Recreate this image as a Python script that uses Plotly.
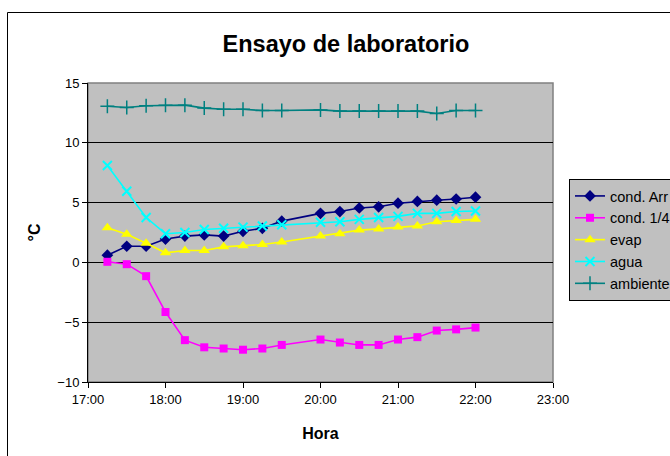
import plotly.graph_objects as go

# Measurement times (one reading every 15 minutes, no reading at 19:45)
horas = ["17:15", "17:30", "17:45", "18:00", "18:15", "18:30", "18:45", "19:00",
         "19:15", "19:30", "20:00", "20:15", "20:30", "20:45", "21:00", "21:15",
         "21:30", "21:45", "22:00"]

cond_arr = [0.6, 1.35, 1.35, 1.95, 2.2, 2.3, 2.2, 2.6, 2.85, 3.45,
            4.1, 4.25, 4.55, 4.65, 4.95, 5.1, 5.2, 5.3, 5.45]
cond_14 = [0.05, -0.15, -1.15, -4.15, -6.5, -7.1, -7.2, -7.3, -7.2, -6.9,
           -6.45, -6.7, -6.9, -6.9, -6.45, -6.25, -5.7, -5.6, -5.45]
evap = [2.9, 2.35, 1.6, 0.8, 1.0, 1.0, 1.3, 1.4, 1.5, 1.7,
        2.2, 2.4, 2.7, 2.8, 2.95, 3.05, 3.4, 3.5, 3.6]
agua = [8.1, 5.95, 3.75, 2.4, 2.5, 2.75, 2.85, 2.95, 3.05, 3.15,
        3.35, 3.4, 3.6, 3.75, 3.85, 4.1, 4.1, 4.25, 4.3]
ambiente = [13.05, 12.95, 13.1, 13.15, 13.15, 12.9, 12.8, 12.8, 12.7, 12.7,
            12.75, 12.65, 12.65, 12.65, 12.65, 12.65, 12.45, 12.7, 12.7]

x_ticks = ["17:00", "18:00", "19:00", "20:00", "21:00", "22:00", "23:00"]
y_ticks = [-10, -5, 0, 5, 10, 15]

DAY = "2000-01-01 "
xs = [DAY + h for h in horas]

series = [
    ("cond. Arr", cond_arr, "#000080", "diamond", 9, None),
    ("cond. 1/4", cond_14, "#FF00FF", "square", 8, None),
    ("evap", evap, "#FFFF00", "triangle-up", 10, None),
    ("agua", agua, "#00FFFF", "x-thin", 9, 2),
    ("ambiente", ambiente, "#008080", "cross-thin", 10, 1.5),
]

fig = go.Figure()
for name, vals, color, symbol, size, mlw in series:
    marker = dict(symbol=symbol, size=size, color=color)
    if mlw is not None:
        marker["line"] = dict(color=color, width=mlw)
    fig.add_trace(go.Scatter(
        x=xs, y=vals, name=name, legendgroup=name, mode="lines+markers",
        line=dict(color=color, width=1.6), marker=marker,
    ))

L, R, T, B = 88, 117, 83, 74
W, H = 670, 456
pw, ph = W - L - R, H - T - B

def px_to_paper_x(px):
    return (px - L) / pw

def px_to_paper_y(py):
    return (H - B - py) / ph

fig.update_layout(
    width=W, height=H,
    margin=dict(l=L, r=R, t=T, b=B, pad=0, autoexpand=False),
    paper_bgcolor="white",
    plot_bgcolor="#C0C0C0",
    font=dict(family="Liberation Sans, Arial, sans-serif", size=13, color="black"),
    title=dict(text="<b>Ensayo de laboratorio</b>", x=346 / W, xanchor="center",
               y=1 - 44 / H, yanchor="middle", font=dict(size=23.5)),
    showlegend=True,
    legend=dict(
        x=px_to_paper_x(569), xanchor="left",
        y=px_to_paper_y(179), yanchor="top",
        bgcolor="#C0C0C0", bordercolor="black", borderwidth=1,
        font=dict(size=14.5), tracegroupgap=0, itemwidth=30,
    ),
    xaxis=dict(
        type="date",
        range=[DAY + x_ticks[0], DAY + x_ticks[-1]],
        tickvals=[DAY + t for t in x_ticks], ticktext=x_ticks,
        showgrid=False, zeroline=False,
        showline=True, linecolor="black", linewidth=1,
        ticks="outside", ticklen=5, tickcolor="black", tickwidth=1,
        title=dict(text="<b>Hora</b>", font=dict(size=16), standoff=22),
    ),
    yaxis=dict(
        range=[y_ticks[0], y_ticks[-1]],
        tickvals=y_ticks,
        showgrid=True, gridcolor="black", gridwidth=1,
        zeroline=True, zerolinecolor="black", zerolinewidth=1,
        showline=True, linecolor="black", linewidth=1,
        ticks="outside", ticklen=5, tickcolor="black", tickwidth=1,
        title=dict(text="<b>°C</b>", font=dict(size=16), standoff=12),
    ),
    shapes=[
        # gray frame on the top and right of the plotting area
        dict(type="rect", xref="paper", yref="paper", x0=0, x1=1, y0=0, y1=1,
             line=dict(color="#808080", width=1.5), layer="between"),
        # outer chart border
        dict(type="rect", xref="paper", yref="paper",
             x0=px_to_paper_x(7.5), x1=px_to_paper_x(720),
             y0=px_to_paper_y(500), y1=px_to_paper_y(12.5),
             line=dict(color="black", width=1)),
    ],
)

fig.write_html("out.html")
